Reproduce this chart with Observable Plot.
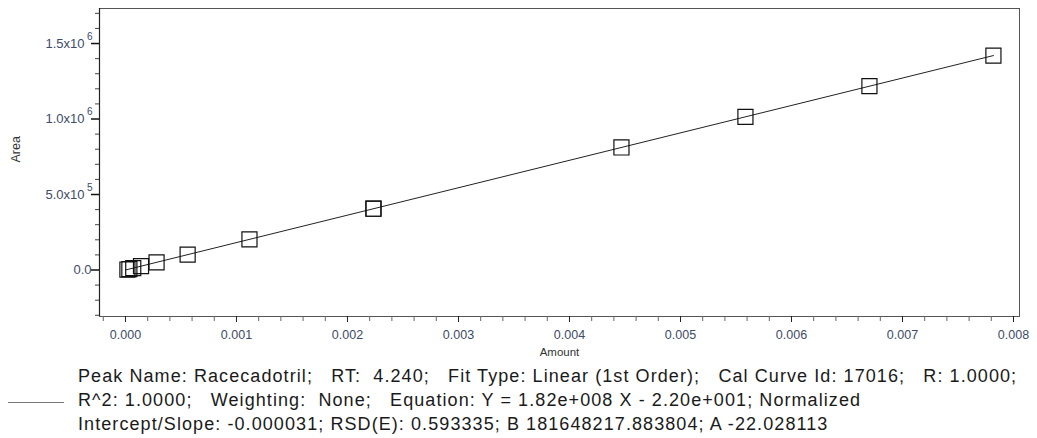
<!DOCTYPE html>
<html>
<head>
<meta charset="utf-8">
<script src="https://cdn.jsdelivr.net/npm/d3@7"></script>
<script src="https://cdn.jsdelivr.net/npm/@observablehq/plot@0.6"></script>
<style>
  html, body { margin: 0; padding: 0; background: #fff; }
  #chart svg { display: block; }
  #caption { position: relative; height: 76px; font-family: "Liberation Sans", Arial, sans-serif; font-size: 18px; letter-spacing: 1.08px; color: #1a1a1a; }
  #caption .key { position: absolute; left: 8px; top: 40px; width: 56px; border-top: 1px solid #777; }
  #caption .txt { position: absolute; left: 78px; top: 2px; line-height: 24px; white-space: pre; }
</style>
</head>
<body>
<div id="chart"></div>
<div id="caption"><div class="key"></div><div class="txt" id="captxt"></div></div>
<script>
// Calibration standards (Amount vs Area)
const amounts = [0.0000175, 0.000035, 0.00007, 0.00014, 0.00028, 0.00056, 0.001117, 0.002234, 0.002234, 0.004468, 0.005585, 0.006702, 0.007819];
const areas   = [3150, 6350, 12700, 25400, 50800, 101700, 202900, 405800, 405900, 811600, 1014500, 1217500, 1420300];
// Fit coefficients
const fitB = 181648217.883804;
const fitA = -22.028113;
// Axis ticks
const xMajor = [0, 0.001, 0.002, 0.003, 0.004, 0.005, 0.006, 0.007, 0.008];
const xLabels = ["0.000", "0.001", "0.002", "0.003", "0.004", "0.005", "0.006", "0.007", "0.008"];
const yMajor = [0, 500000, 1000000, 1500000];
const yMantissa = ["0.0", "5.0x10", "1.0x10", "1.5x10"];
const yExponent = ["", "5", "6", "6"];
const captionLines = [
  "Peak Name: Racecadotril;   RT:  4.240;   Fit Type: Linear (1st Order);   Cal Curve Id: 17016;   R: 1.0000;",
  "R^2: 1.0000;   Weighting:  None;   Equation: Y = 1.82e+008 X - 2.20e+001; Normalized",
  "Intercept/Slope: -0.000031; RSD(E): 0.593335; B 181648217.883804; A -22.028113"
];

const xDomain = [-0.000234, 0.008054];
const yDomain = [-308000, 1732000];
const xMinor = d3.range(-0.0002, 0.00801, 0.0002).filter(v => !xMajor.some(m => Math.abs(m - v) < 1e-9));
const yMinor = d3.range(-300000, 1700001, 100000).filter(v => !yMajor.includes(v));

const pts = amounts.map((a, i) => ({amount: a, area: areas[i]}));
const fitX = [0, d3.max(amounts)];
const fit = fitX.map(x => ({amount: x, area: fitB * x + fitA}));

const labelColor = "#3d4a68";
const font = "Liberation Sans, Arial, sans-serif";
const yWithExp = yMajor.filter((d, i) => yExponent[i] !== "");
const yNoExp = yMajor.filter((d, i) => yExponent[i] === "");
const label = d => yMantissa[yMajor.indexOf(d)];
const expo = d => yExponent[yMajor.indexOf(d)];

const plot = Plot.plot({
  width: 1037,
  height: 362,
  marginLeft: 99,
  marginRight: 18,
  marginTop: 8,
  marginBottom: 46,
  style: {fontFamily: font, background: "#fff"},
  x: {domain: xDomain, type: "linear"},
  y: {domain: yDomain, type: "linear"},
  marks: [
    Plot.frame({stroke: "#555", strokeWidth: 1}),
    Plot.axisX({ticks: xMinor, tickSize: 5, tickFormat: () => "", stroke: "#666", label: null}),
    Plot.axisX({ticks: xMajor, tickSize: 6, tickPadding: 8, tickFormat: (d, i) => xLabels[i], fontSize: 12.5, fill: labelColor, stroke: "#222", label: null, style: {letterSpacing: "0.8px"}}),
    Plot.axisY({ticks: yMinor, tickSize: 4, tickFormat: () => "", stroke: "#444", label: null}),
    Plot.axisY({ticks: yWithExp, tickSize: 8, tickPadding: 7, tickFormat: label, fontSize: 13, fill: labelColor, stroke: "#111", strokeWidth: 1.5, label: null}),
    Plot.axisY({ticks: yNoExp, tickSize: 8, tickPadding: 0, tickFormat: label, fontSize: 13, fill: labelColor, stroke: "#111", strokeWidth: 1.5, label: null}),
    Plot.ruleX([xDomain[0]], {stroke: "#222", strokeWidth: 1.2}),
    Plot.text(yWithExp, {x: () => xDomain[0], y: d => d, text: expo, textAnchor: "end", fontSize: 10, fill: labelColor, dx: -7, dy: -7}),
    Plot.text(["Amount"], {frameAnchor: "bottom", dy: 39, fontSize: 11.5, fill: "#333"}),
    Plot.text(["Area"], {frameAnchor: "left", dx: -84, rotate: -90, fontSize: 12.5, fill: "#333"}),
    Plot.line(fit, {x: "amount", y: "area", stroke: "#222", strokeWidth: 1}),
    Plot.dot(pts, {x: "amount", y: "area", symbol: "square", r: 8.5, stroke: "#111", strokeWidth: 1.2, fill: "none"})
  ]
});
document.getElementById("chart").appendChild(plot);
document.getElementById("captxt").textContent = captionLines.join("\n");
</script>
</body>
</html>
